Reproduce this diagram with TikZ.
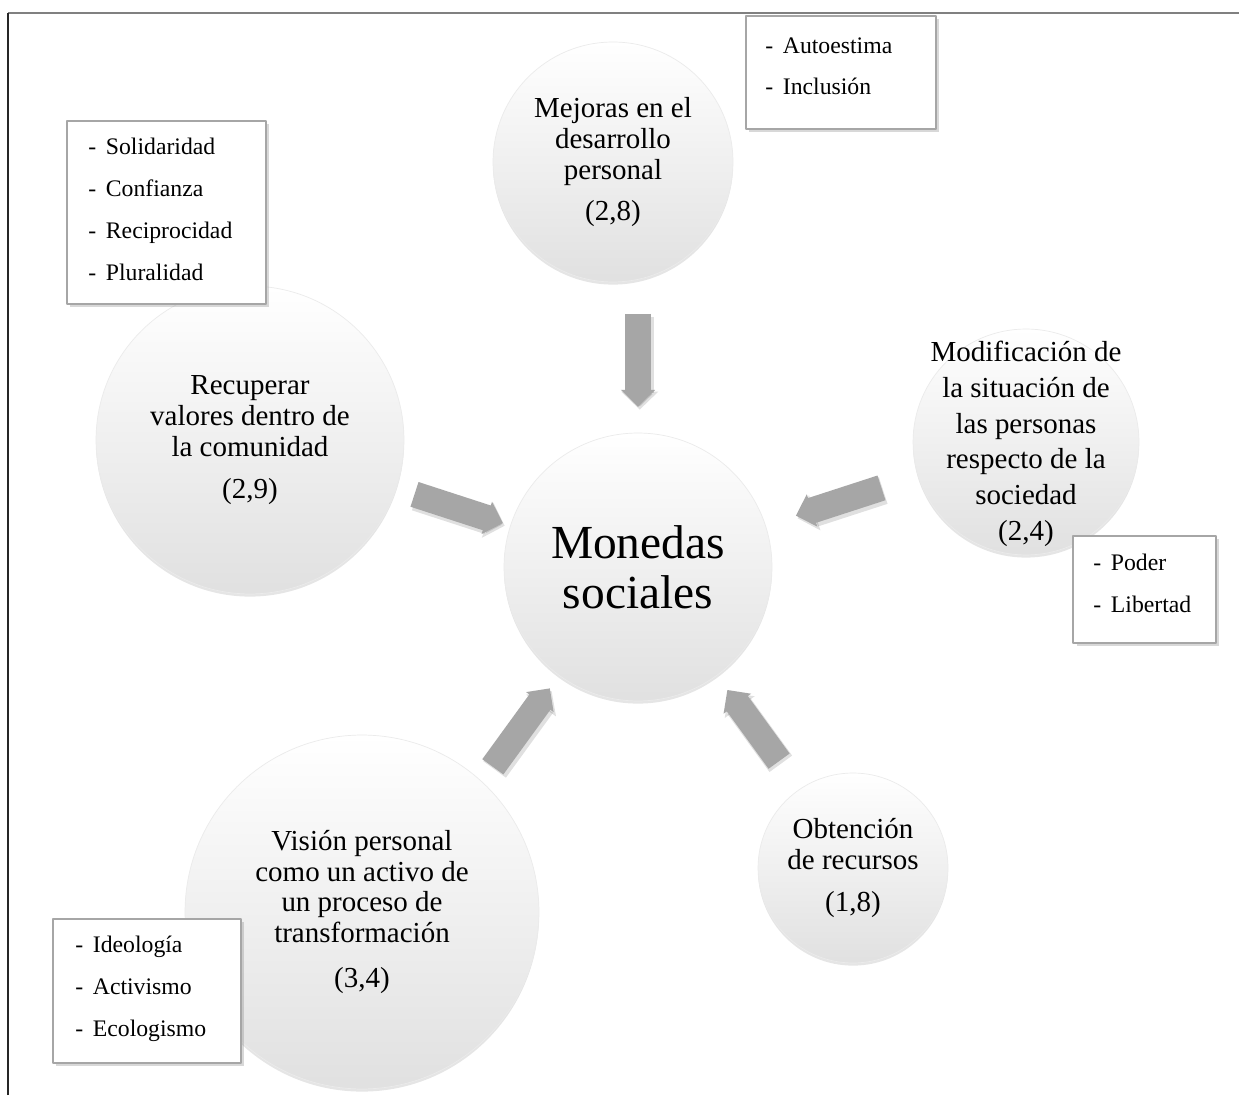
\documentclass[tikz,border=0pt]{standalone}
\usepackage{fontspec}
\setmainfont{Liberation Serif}
\usetikzlibrary{shadows,arrows.meta}
\begin{document}
\begin{tikzpicture}[x=0.02cm,y=0.02cm,line join=round,
	bubble/.style={circle,draw=black!8,line width=0.4pt,top color=white,bottom color=black!12,align=center,inner sep=0pt,font=\fontsize{16.5}{17.6}\selectfont,drop shadow={shadow xshift=0pt,shadow yshift=-1.5pt,opacity=0.2}},
	bubtext/.style={align=center,inner sep=0pt,font=\fontsize{16.5}{20.3}\selectfont},
	listbox/.style={draw=black!35,line width=1.1pt,fill=white,inner sep=0pt,anchor=north west,drop shadow={shadow xshift=2pt,shadow yshift=-2pt,opacity=0.3}},
	listtext/.style={anchor=north west,align=left,inner sep=0pt,font=\fontsize{13.5}{23.8}\selectfont},
	flow/.style={draw=black!35,line width=0.52cm,-{Triangle[length=0.34cm,width=0.66cm]}},
	flowshade/.style={draw=black,opacity=0.12,line width=0.56cm,-{Triangle[length=0.36cm,width=0.72cm]}}]
	\fill[white] (0,0) rectangle (1239,1095);
	\useasboundingbox (0,0) rectangle (1239,1095);
	% page frame
	\draw[black!50,line width=0.7pt] (8,1082)--(1239,1082);
	\draw[black!85,line width=0.7pt] (8,0)--(8,1082);
	% circles
	\node[bubble,minimum size=5.36cm,font=\fontsize{27}{28.5}\selectfont] (mid) at (638,528) {Monedas\\sociales};
	\node[bubble,minimum size=4.8cm] (dev) at (613,933) {Mejoras en el\\desarrollo\\personal\\[6pt](2,8)};
	\node[bubble,minimum size=6.16cm] (val) at (250,655) {Recuperar\\valores dentro de\\la comunidad\\[6pt](2,9)};
	\node[bubble,minimum size=4.52cm] (soc) at (1026,653) {};
	\node[bubtext] (soctext) at ([yshift=-1]soc.center) {Modificación de\\la situación de\\las personas\\respecto de la\\sociedad\\(2,4)};
	\node[bubble,minimum size=7.08cm] (vis) at (362,183) {Visión personal\\como un activo de\\un proceso de\\transformación\\[8pt](3,4)};
	\node[bubble,minimum size=3.8cm] (rec) at (853,227) {Obtención\\de recursos\\[6pt](1,8)};
	% arrows towards the centre
	\foreach \a/\r/\s in {90/253/160,162/235/142,18/256/166,234/247/150,306/240/152}{
		\draw[flowshade] ([shift={(\a:\r)},xshift=1pt,yshift=-1.5pt]mid.center)--([shift={(\a:\s)},xshift=1pt,yshift=-1.5pt]mid.center);
		\draw[flow] ([shift={(\a:\r)}]mid.center)--([shift={(\a:\s)}]mid.center);
	}
	% lists
	\node[listbox,minimum width=3.8cm,minimum height=2.26cm] (devbox) at (745,1080) {};
	\node[listtext] (devlist) at ([shift={(20,-22)}]devbox.north west) {-\hspace{5.5pt}Autoestima\\-\hspace{5.5pt}Inclusión};
	\node[listbox,minimum width=3.98cm,minimum height=3.66cm] (valbox) at (66,975) {};
	\node[listtext] (vallist) at ([shift={(22,-18)}]valbox.north west) {-\hspace{5.5pt}Solidaridad\\-\hspace{5.5pt}Confianza\\-\hspace{5.5pt}Reciprocidad\\-\hspace{5.5pt}Pluralidad};
	\node[listbox,minimum width=2.86cm,minimum height=2.14cm] (socbox) at (1072,560) {};
	\node[listtext] (soclist) at ([shift={(21,-19)}]socbox.north west) {-\hspace{5.5pt}Poder\\-\hspace{5.5pt}Libertad};
	\node[listbox,minimum width=3.76cm,minimum height=2.88cm] (visbox) at (52,177) {};
	\node[listtext] (vislist) at ([shift={(23,-18)}]visbox.north west) {-\hspace{5.5pt}Ideología\\-\hspace{5.5pt}Activismo\\-\hspace{5.5pt}Ecologismo};
\end{tikzpicture}
\end{document}
